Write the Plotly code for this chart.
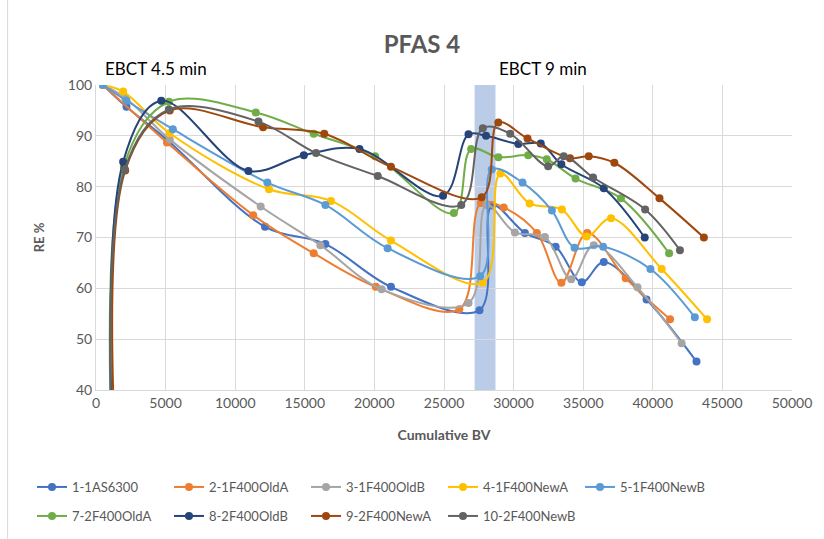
import plotly.graph_objects as go

# Cumulative bed volumes (BV) and removal efficiency (RE %) for each column
bv_1 = [500, 2190, 5200, 12140, 16480, 21190, 27550, 28450, 30810, 33020, 34900, 36480, 39550, 43140]
re_1 = [100, 95.7, 89.0, 72.1, 68.7, 60.3, 55.7, 76.3, 70.9, 68.2, 61.2, 65.2, 57.8, 45.6]

bv_2 = [500, 5100, 11290, 15640, 20100, 26100, 27650, 29290, 31670, 33430, 35290, 38050, 41240]
re_2 = [100, 88.7, 74.4, 66.9, 60.3, 55.9, 76.8, 75.9, 70.9, 61.1, 70.9, 62.0, 53.9]

bv_3 = [500, 2100, 5300, 11830, 16120, 20520, 26760, 28050, 30090, 32250, 34140, 35760, 38900, 42070]
re_3 = [100, 97.5, 89.3, 76.1, 68.5, 59.8, 57.1, 76.4, 71.0, 70.1, 61.8, 68.5, 60.2, 49.2]

bv_4 = [500, 1950, 5300, 12430, 16880, 21190, 27790, 29050, 31150, 33470, 35240, 37000, 40640, 43900]
re_4 = [100, 98.7, 90.5, 79.5, 77.2, 69.4, 61.1, 82.6, 76.7, 75.5, 70.2, 73.8, 63.8, 53.9]

bv_5 = [500, 2190, 5520, 12310, 16480, 20950, 27600, 28430, 30640, 32750, 34380, 36430, 39830, 43020]
re_5 = [100, 96.9, 91.3, 80.8, 76.4, 67.9, 62.4, 83.4, 80.8, 75.3, 68.0, 68.2, 63.8, 54.3]

bv_7 = [1600, 2000, 5240, 11480, 15640, 20050, 25710, 26950, 28900, 31050, 32380, 34450, 37710, 41170]
re_7 = [0, 84.0, 96.7, 94.6, 90.4, 86.0, 74.8, 87.4, 85.8, 86.2, 85.4, 81.6, 77.7, 66.9]

bv_8 = [1600, 1950, 4690, 10950, 14930, 18930, 24930, 26760, 28020, 30340, 31950, 33430, 36480, 39420]
re_8 = [0, 84.9, 96.9, 83.1, 86.2, 87.4, 78.2, 90.3, 90.0, 88.4, 88.5, 84.4, 79.7, 70.0]

bv_9 = [1950, 2100, 5300, 12000, 16400, 21190, 27710, 28900, 31000, 34050, 35400, 37240, 40480, 43670]
re_9 = [0, 83.2, 95.0, 91.7, 90.4, 83.9, 77.9, 92.6, 89.5, 85.6, 86.0, 84.7, 77.7, 70.0]

bv_10 = [1600, 2070, 5240, 11670, 15810, 20240, 26240, 27790, 29760, 32480, 33600, 35710, 39450, 41950]
re_10 = [0, 83.4, 95.2, 92.8, 86.6, 82.1, 76.4, 91.5, 90.4, 84.0, 86.0, 81.8, 75.5, 67.5]

# EBCT switch-over window (BV)
switch_bv = [27200, 28700]

series = [
    ("1-1AS6300", bv_1, re_1, "#4472C4", "legend"),
    ("2-1F400OldA", bv_2, re_2, "#ED7D31", "legend"),
    ("3-1F400OldB", bv_3, re_3, "#A5A5A5", "legend"),
    ("4-1F400NewA", bv_4, re_4, "#FFC000", "legend"),
    ("5-1F400NewB", bv_5, re_5, "#5B9BD5", "legend"),
    ("7-2F400OldA", bv_7, re_7, "#70AD47", "legend2"),
    ("8-2F400OldB", bv_8, re_8, "#264478", "legend2"),
    ("9-2F400NewA", bv_9, re_9, "#9E480E", "legend2"),
    ("10-2F400NewB", bv_10, re_10, "#636363", "legend2"),
]

FONT = "Lato"
GREY = "#595959"

fig = go.Figure()
for name, x, y, color, lg in series:
    fig.add_trace(go.Scatter(
        x=x, y=y, name=name, mode="lines+markers",
        line=dict(color=color, width=2, shape="spline", smoothing=1.0),
        marker=dict(color=color, size=8),
        legend=lg,
    ))

# shaded band marking the EBCT change
fig.add_shape(type="rect", xref="x", yref="y",
              x0=switch_bv[0], x1=switch_bv[1], y0=40, y1=100,
              fillcolor="#B4C7E7", opacity=0.9, line_width=0, layer="below")

# chart-area edge on the left
fig.add_shape(type="line", xref="paper", yref="paper",
              x0=-0.127, x1=-0.127, y0=-0.5, y1=1.3,
              line=dict(color="#D9D9D9", width=1))

fig.add_annotation(text="EBCT 4.5 min", xref="paper", yref="paper",
                   x=(103 - 96) / 700, y=(390 - 68) / 305, xanchor="left", yanchor="middle",
                   showarrow=False, font=dict(family=FONT, size=17, color="black"))
fig.add_annotation(text="EBCT 9 min", xref="paper", yref="paper",
                   x=(499 - 96) / 700, y=(390 - 68) / 305, xanchor="left", yanchor="middle",
                   showarrow=False, font=dict(family=FONT, size=17, color="black"))

legend_common = dict(
    orientation="h", xref="container", yref="container",
    xanchor="left", yanchor="middle", x=32 / 824,
    entrywidth=92, entrywidthmode="pixels",
    font=dict(family=FONT, size=13, color=GREY),
    bgcolor="rgba(0,0,0,0)", itemwidth=30,
)

fig.update_layout(
    width=824, height=539,
    margin=dict(l=96, r=28, t=85, b=149),
    paper_bgcolor="white", plot_bgcolor="white",
    font=dict(family=FONT, color=GREY),
    title=dict(text="<b>PFAS 4</b>", x=422 / 824, xanchor="center",
               y=1 - 45 / 539, yanchor="middle",
               font=dict(family=FONT, size=24, color=GREY)),
    legend=dict(**legend_common, y=1 - 487 / 539),
    legend2=dict(**legend_common, y=1 - 516 / 539),
    xaxis=dict(range=[0, 50000], tickvals=list(range(0, 50001, 5000)),
               tickformat="d",
               showgrid=True, gridcolor="#D9D9D9", gridwidth=1,
               showline=True, linecolor="#D9D9D9", zeroline=False,
               ticks="", tickfont=dict(family=FONT, size=14, color=GREY),
               title=dict(text="<b>Cumulative BV</b>", standoff=20,
                          font=dict(family=FONT, size=14, color=GREY))),
    yaxis=dict(range=[40, 100], tickvals=list(range(40, 101, 10)),
               showgrid=True, gridcolor="#D9D9D9", gridwidth=1,
               showline=True, linecolor="#D9D9D9", zeroline=False,
               ticks="", tickfont=dict(family=FONT, size=14, color=GREY),
               title=dict(text="<b>RE %</b>", standoff=20,
                          font=dict(family=FONT, size=13, color=GREY))),
)

fig.write_html("out.html")
